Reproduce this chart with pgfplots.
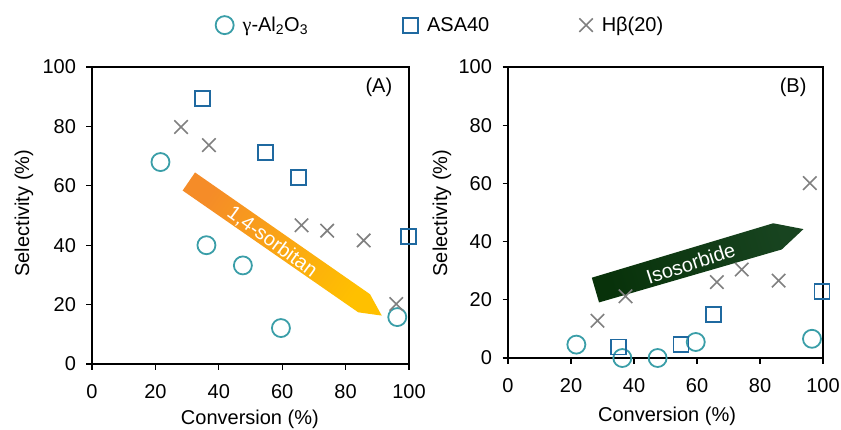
\documentclass[border=0pt]{standalone}
\usepackage{pgfplots}
\pgfplotsset{compat=1.18}
\usepackage{fontspec}
\setmainfont{Liberation Sans}
\newfontfamily\serifgreek{Liberation Serif}
\definecolor{cteal}{RGB}{58,158,168}
\definecolor{cblue}{RGB}{31,105,160}
\definecolor{cgray}{RGB}{128,128,128}
\definecolor{corange}{RGB}{245,140,40}
\definecolor{cgold}{RGB}{255,192,0}
\definecolor{gdark}{RGB}{8,50,10}
\definecolor{glight}{RGB}{24,68,32}
\pgfplotsset{
  myaxis/.style={
    scale only axis,
    xmin=0, xmax=100, ymin=0, ymax=100,
    xtick={0,20,...,100}, ytick={0,20,...,100},
    tick align=outside, tick pos=left,
    major tick length=5.5pt,
    axis line style={line width=1.3pt},
    every tick/.style={line width=1.3pt, black},
    clip=false,
    font=\fontsize{20}{24}\selectfont,
    /pgf/number format/assume math mode=true,
    xticklabel style={font=\fontsize{20}{24}\selectfont, yshift=-11pt},
    yticklabel style={font=\fontsize{20}{24}\selectfont, xshift=-7pt},
    legend image code/.code={\draw[#1] plot coordinates {(0.3cm,0cm)};},
  },
  pAl/.style={only marks, mark=o, mark size=9pt, line width=1.8pt, cteal},
  pASA/.style={only marks, mark=square, mark size=7.5pt, line width=1.8pt, cblue},
  pHb/.style={only marks, mark=x, mark size=9.5pt, line width=1.6pt, cgray},
}
\begin{document}
\begin{tikzpicture}
\useasboundingbox (0pt,0pt) rectangle (841pt,-429pt);
% ---------------- Panel A
\begin{axis}[myaxis,
  at={(92pt,-364pt)}, anchor=south west,
  width=317pt, height=297pt,
  xlabel={Conversion (\%)}, ylabel={Selectivity (\%)},
  xlabel style={at={(axis description cs:0.498,-0.185)}, anchor=center},
  ylabel style={at={(axis description cs:-0.215,0.508)}, anchor=center},
  legend columns=3,
  legend style={draw=none, fill=none, at={(axis description cs:0.38,1.141)}, anchor=west,
    font=\fontsize{20}{24}\selectfont,
    nodes={inner sep=1pt},
    /tikz/column 1/.style={column sep=8pt},
    /tikz/column 2/.style={column sep=94pt},
    /tikz/column 3/.style={column sep=8pt},
    /tikz/column 4/.style={column sep=89pt},
    /tikz/column 5/.style={column sep=8pt}},
]
\shade[bottom color=corange, top color=cgold, shading angle=-125]
  (axis cs:28.6,58.4) -- (axis cs:32.5,64.5) -- (axis cs:87.7,23.5) -- (axis cs:91.4,16.3) -- (axis cs:84.0,17.4) -- cycle;
\node[white, rotate=-36, font=\fontsize{20}{24}\selectfont] at (axis cs:56.8,41.1) {1,4-sorbitan};
\node[font=\fontsize{20}{24}\selectfont] at (axis cs:90.5,93.3) {(A)};
\addplot[pAl] coordinates {(21.6,68) (36.1,40) (47.6,33.2) (59.6,12.1) (96.3,15.8)};
\addlegendentry{{\serifgreek γ}-Al\textsubscript{2}O\textsubscript{3}}
\addplot[pASA] coordinates {(34.8,89.3) (54.8,71.2) (65.1,62.9) (99.8,43)};
\addlegendentry{ASA40}
\addplot[pHb] coordinates {(28.1,79.8) (36.9,73.7) (66.1,46.7) (74.2,44.9) (85.7,41.6) (96.0,20.2)};
\addlegendentry{Hβ(20)}
\end{axis}
% ---------------- Panel B
\begin{axis}[myaxis,
  at={(508pt,-358pt)}, anchor=south west,
  width=315pt, height=291pt,
  xlabel={Conversion (\%)}, ylabel={Selectivity (\%)},
  xlabel style={at={(axis description cs:0.505,-0.2)}, anchor=center},
  ylabel style={at={(axis description cs:-0.21,0.498)}, anchor=center},
]
\shade[bottom color=gdark, top color=glight, shading angle=-74]
  (axis cs:26.6,27.6) -- (axis cs:28.9,19.1) -- (axis cs:86.9,37.3) -- (axis cs:93.8,44.3) -- (axis cs:84.2,46.3) -- cycle;
\node[white, rotate=18, font=\fontsize{20}{24}\selectfont] at (axis cs:58.0,32.5) {Isosorbide};
\node[font=\fontsize{20}{24}\selectfont] at (axis cs:90.5,93.0) {(B)};
\addplot[pAl] coordinates {(21.7,4.6) (36.3,0) (47.5,0) (59.6,5.5) (96.5,6.6)};
\addplot[pASA] coordinates {(35.2,3.8) (54.9,4.7) (65.2,14.9) (99.7,22.9)};
\addplot[pHb] coordinates {(28.4,12.8) (37.3,21.2) (66.3,26.1) (74.2,30.4) (85.9,26.6) (95.8,60.1)};
\end{axis}
\end{tikzpicture}
\end{document}
